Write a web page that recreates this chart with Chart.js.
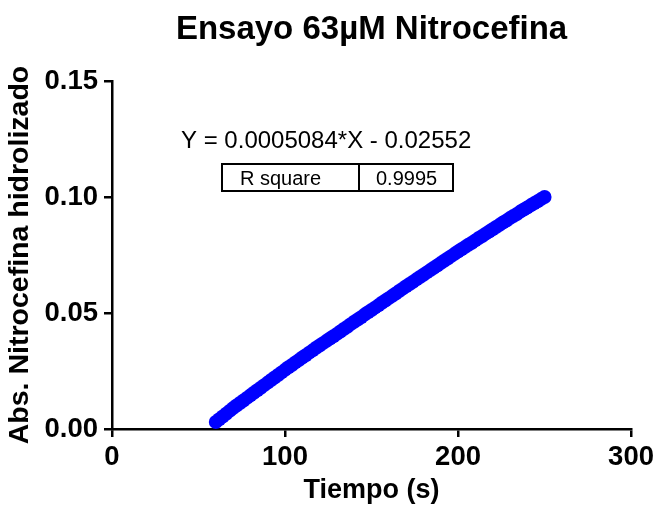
<!DOCTYPE html>
<html>
<head>
<meta charset="utf-8">
<script src="https://cdn.jsdelivr.net/npm/chart.js@4/dist/chart.umd.min.js"></script>
<style>
  html, body { margin: 0; padding: 0; background: #ffffff; }
  canvas { display: block; }
</style>
</head>
<body>
<canvas id="c" width="658" height="510"></canvas>
<script>
// ---- Data ----
const chartTitle = 'Ensayo 63µM Nitrocefina';
const xAxisTitle = 'Tiempo (s)';
const yAxisTitle = 'Abs. Nitrocefina hidrolizado';
const xTickValues = [0, 100, 200, 300];
const yTickValues = [0.00, 0.05, 0.10, 0.15];
const yTickLabels = ['0.00', '0.05', '0.10', '0.15'];
const fitEquation = 'Y = 0.0005084*X - 0.02552';
const fitStatLabel = 'R square';
const fitStatValue = '0.9995';

const timeSeconds = [
  60, 62, 64, 66, 68, 70, 72, 74, 76, 78,
  80, 82, 84, 86, 88, 90, 92, 94, 96, 98,
  100, 102, 104, 106, 108, 110, 112, 114, 116, 118,
  120, 122, 124, 126, 128, 130, 132, 134, 136, 138,
  140, 142, 144, 146, 148, 150, 152, 154, 156, 158,
  160, 162, 164, 166, 168, 170, 172, 174, 176, 178,
  180, 182, 184, 186, 188, 190, 192, 194, 196, 198,
  200, 202, 204, 206, 208, 210, 212, 214, 216, 218,
  220, 222, 224, 226, 228, 230, 232, 234, 236, 238,
  240, 242, 244, 246, 248, 250
];
const absorbance = [
  0.0030, 0.0042, 0.0054, 0.0066, 0.0078, 0.0090, 0.0101, 0.0112, 0.0123, 0.0134,
  0.0145, 0.0156, 0.0167, 0.0178, 0.0189, 0.0200, 0.0211, 0.0222, 0.0233, 0.0244,
  0.0255, 0.0266, 0.0276, 0.0287, 0.0297, 0.0308, 0.0318, 0.0329, 0.0339, 0.0350,
  0.0360, 0.0370, 0.0380, 0.0390, 0.0400, 0.0410, 0.0420, 0.0431, 0.0441, 0.0452,
  0.0462, 0.0472, 0.0482, 0.0493, 0.0503, 0.0513, 0.0523, 0.0533, 0.0544, 0.0554,
  0.0564, 0.0574, 0.0584, 0.0595, 0.0605, 0.0615, 0.0625, 0.0635, 0.0645, 0.0655,
  0.0665, 0.0675, 0.0685, 0.0695, 0.0705, 0.0715, 0.0725, 0.0735, 0.0745, 0.0755,
  0.0765, 0.0775, 0.0784, 0.0794, 0.0803, 0.0813, 0.0823, 0.0832, 0.0842, 0.0851,
  0.0861, 0.0871, 0.0880, 0.0890, 0.0899, 0.0909, 0.0918, 0.0927, 0.0937, 0.0946,
  0.0955, 0.0964, 0.0973, 0.0982, 0.0991, 0.1000
];

const points = timeSeconds.map((t, i) => ({ x: t, y: absorbance[i] }));

const FONT = '"Liberation Sans", Arial, Helvetica, sans-serif';

const overlayPlugin = {
  id: 'overlay',
  beforeDraw(chart) {
    const ctx = chart.ctx;
    ctx.save();
    ctx.fillStyle = '#ffffff';
    ctx.fillRect(0, 0, chart.width, chart.height);
    ctx.restore();
  },
  afterDraw(chart) {
    const ctx = chart.ctx;
    const a = chart.chartArea;
    ctx.save();
    // Title
    ctx.fillStyle = '#000000';
    ctx.font = 'bold 33px ' + FONT;
    ctx.textAlign = 'center';
    ctx.textBaseline = 'alphabetic';
    ctx.fillText(chartTitle, (a.left + a.right) / 2, 39);

    // Fit equation
    ctx.font = '24px ' + FONT;
    ctx.textAlign = 'left';
    ctx.fillText(fitEquation, a.left + 69, 148);

    // R square table
    const bx = a.left + 110, by = 164, bw = 231, bh = 27, split = 137;
    ctx.lineWidth = 2;
    ctx.strokeStyle = '#000000';
    ctx.strokeRect(bx, by, bw, bh);
    ctx.beginPath();
    ctx.moveTo(bx + split, by);
    ctx.lineTo(bx + split, by + bh);
    ctx.stroke();
    ctx.font = '20px ' + FONT;
    ctx.fillText(fitStatLabel, bx + 18, by + 21);
    ctx.fillText(fitStatValue, bx + split + 17, by + 21);
    ctx.restore();
  }
};

new Chart(document.getElementById('c'), {
  type: 'scatter',
  data: {
    datasets: [{
      data: points,
      backgroundColor: 'rgb(0, 0, 255)',
      borderColor: 'rgb(0, 0, 255)',
      borderWidth: 0,
      pointRadius: 7,
      pointHoverRadius: 7,
      clip: false
    }]
  },
  options: {
    responsive: false,
    animation: false,
    events: [],
    layout: { padding: { left: 0, right: 24, top: 81, bottom: 0 } },
    plugins: {
      legend: { display: false },
      title: { display: false },
      tooltip: { enabled: false }
    },
    scales: {
      x: {
        type: 'linear',
        min: 0,
        max: 300,
        afterBuildTicks(scale) { scale.ticks = xTickValues.map(v => ({ value: v })); },
        afterFit(scale) { scale.height = 81; },
        ticks: {
          color: '#000000',
          font: { family: FONT, size: 27.5, weight: 'bold' },
          padding: 4,
          maxRotation: 0,
          autoSkip: false,
          callback: (v) => String(v)
        },
        grid: {
          display: true,
          drawOnChartArea: false,
          drawTicks: true,
          tickLength: 8,
          color: '#000000',
          lineWidth: 2.5
        },
        border: { display: true, color: '#000000', width: 2.5 },
        title: {
          display: true,
          text: xAxisTitle,
          color: '#000000',
          font: { family: FONT, size: 27, weight: 'bold' },
          padding: { top: 0, bottom: 3 }
        }
      },
      y: {
        type: 'linear',
        min: 0,
        max: 0.15,
        afterBuildTicks(scale) { scale.ticks = yTickValues.map(v => ({ value: v })); },
        afterFit(scale) { scale.width = 112; },
        ticks: {
          color: '#000000',
          font: { family: FONT, size: 27.5, weight: 'bold' },
          padding: 6,
          autoSkip: false,
          callback: (v) => {
            const i = yTickValues.findIndex(t => Math.abs(t - v) < 1e-9);
            return i >= 0 ? yTickLabels[i] : '';
          }
        },
        grid: {
          display: true,
          drawOnChartArea: false,
          drawTicks: true,
          tickLength: 8,
          color: '#000000',
          lineWidth: 2.5
        },
        border: { display: true, color: '#000000', width: 2.5 },
        title: {
          display: true,
          text: yAxisTitle,
          color: '#000000',
          font: { family: FONT, size: 28.5, weight: 'bold' },
          padding: { top: 3, bottom: 0 }
        }
      }
    }
  },
  plugins: [overlayPlugin]
});
</script>
</body>
</html>
